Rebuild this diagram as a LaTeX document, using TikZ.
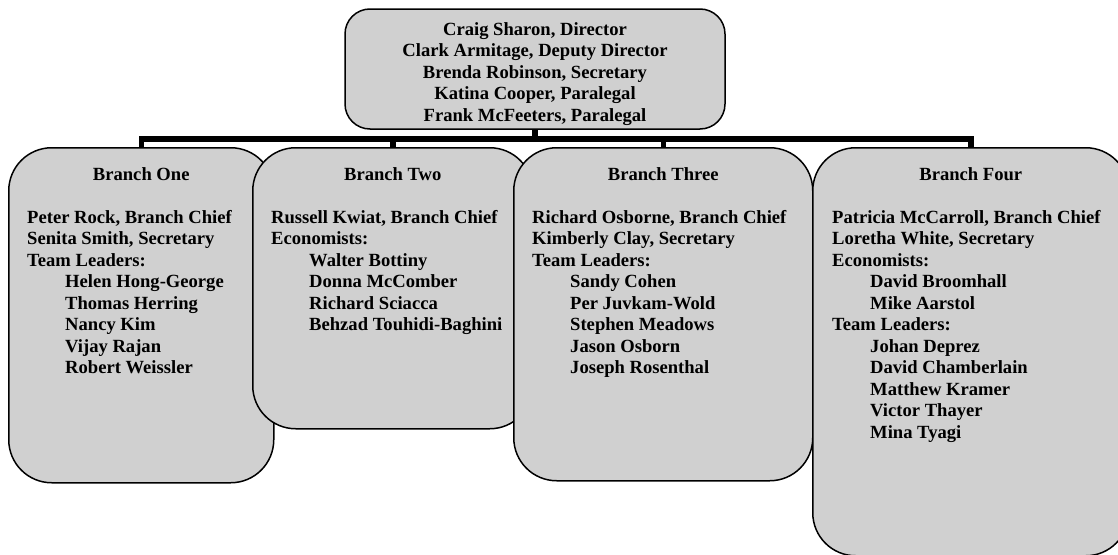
\documentclass[tikz,border=0pt]{standalone}
\usepackage{fontspec}
\setmainfont{Liberation Serif}
\usepackage{xcolor}
\usepackage{tikz}
\usetikzlibrary{positioning, calc}
\definecolor{panel}{HTML}{D0D0D0}
\newcommand{\orgfont}{\bfseries\fontsize{18.6}{21.5}\selectfont}
\newcommand{\indnt}{\hspace*{38pt}}

\begin{document}
\begin{tikzpicture}[x=1pt,y=1pt]
    \tikzset{hd/.style={draw,line width=1.5pt,fill=panel,rounded corners=25pt,minimum width=380pt,minimum height=120pt,align=center,font=\orgfont}, br/.style={draw,line width=1.5pt,fill=panel,rounded corners=43pt,anchor=north west}, ttl/.style={anchor=base,inner sep=0pt,font=\orgfont}, body/.style={anchor=north west,inner sep=0pt,align=left,font=\orgfont}, bar/.style={line width=5.5pt,line join=miter}}
    \path[use as bounding box,fill=white] (0,0) rectangle (1118,-554);
    \node[hd] (top) at (535,-69) {\rule{0pt}{23pt}Craig Sharon, Director\\Clark Armitage, Deputy Director\\Brenda Robinson, Secretary\\Katina Cooper, Paralegal\\Frank McFeeters, Paralegal};
    % branch boxes, each one laid over the previous
    \node[br,minimum width=265pt,minimum height=335pt] (b1) at (8,-147) {};
    \node[br,minimum width=280pt,minimum height=281pt] (b2) at (252,-147) {};
    \node[br,minimum width=299pt,minimum height=333pt] (b3) at (513,-147) {};
    \node[br,minimum width=316pt,minimum height=408pt] (b4) at (812,-147) {};
    \node[ttl] (t1) at ([yshift=-33pt]b1.north) {Branch One};
    \node[ttl] (t2) at ([yshift=-33pt]b2.north) {Branch Two};
    \node[ttl] (t3) at ([yshift=-33pt]b3.north) {Branch Three};
    \node[ttl] (t4) at ([yshift=-33pt]b4.north) {Branch Four};
    \node[body] (p1) at ([xshift=19pt,yshift=-63pt]b1.north west) {Peter Rock, Branch Chief\\Senita Smith, Secretary\\Team Leaders:\\\indnt Helen Hong-George\\\indnt Thomas Herring\\\indnt Nancy Kim\\\indnt Vijay Rajan\\\indnt Robert Weissler};
    \node[body] (p2) at ([xshift=19pt,yshift=-63pt]b2.north west) {Russell Kwiat, Branch Chief\\Economists:\\\indnt Walter Bottiny\\\indnt Donna McComber\\\indnt Richard Sciacca\\\indnt Behzad Touhidi-Baghini};
    \node[body] (p3) at ([xshift=19pt,yshift=-63pt]b3.north west) {Richard Osborne, Branch Chief\\Kimberly Clay, Secretary\\Team Leaders:\\\indnt Sandy Cohen\\\indnt Per Juvkam-Wold\\\indnt Stephen Meadows\\\indnt Jason Osborn\\\indnt Joseph Rosenthal};
    \node[body] (p4) at ([xshift=20pt,yshift=-63pt]b4.north west) {Patricia McCarroll, Branch Chief\\Loretha White, Secretary\\Economists:\\\indnt David Broomhall\\\indnt Mike Aarstol\\Team Leaders:\\\indnt Johan Deprez\\\indnt David Chamberlain\\\indnt Matthew Kramer\\\indnt Victor Thayer\\\indnt Mina Tyagi};
    % connectors
    \draw[bar] (top.south) -- ++(0,-9) coordinate (j);
    \draw[bar] (b1.north) -- (b1.north |- j) -- (b4.north |- j) -- (b4.north);
    \draw[bar] (b2.north) -- (b2.north |- j); \draw[bar] (b3.north) -- (b3.north |- j);
  \end{tikzpicture}
\end{document}
